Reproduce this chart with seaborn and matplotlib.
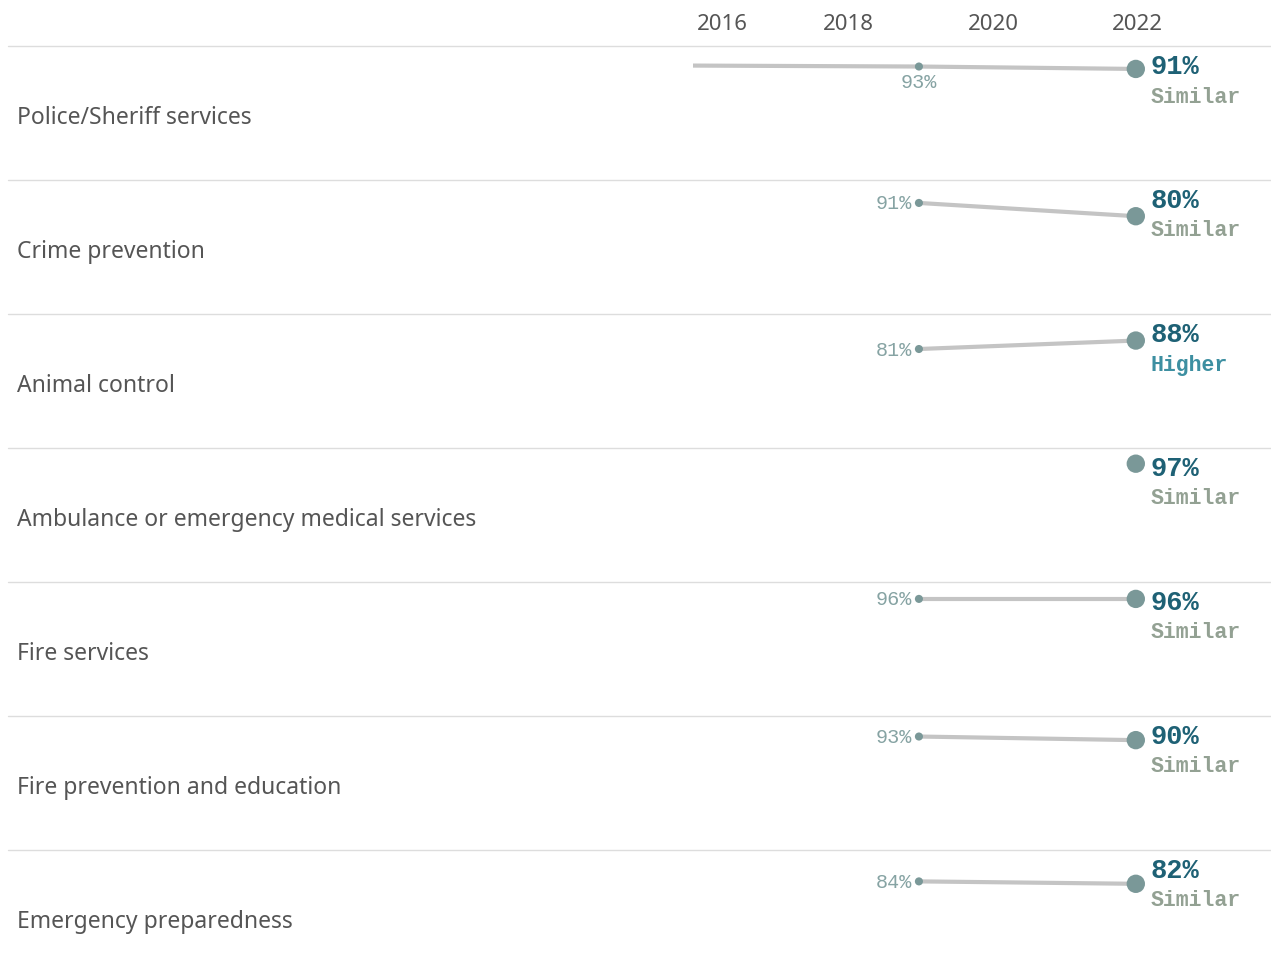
import pandas as pd
import matplotlib.pyplot as plt
import seaborn as sns
from matplotlib.lines import Line2D
from matplotlib.transforms import ScaledTranslation

# data
services = [
    "Police/Sheriff services",
    "Crime prevention",
    "Animal control",
    "Ambulance or emergency medical services",
    "Fire services",
    "Fire prevention and education",
    "Emergency preparedness",
]
pct_2015 = [94, None, None, None, None, None, None]
pct_2019 = [93, 91, 81, None, 96, 93, 84]
pct_2022 = [91, 80, 88, 97, 96, 90, 82]
comparison = ["Similar", "Similar", "Higher", "Similar", "Similar", "Similar", "Similar"]
year_ticks = [2016, 2018, 2020, 2022]

rows = []
for s, a, b, c in zip(services, pct_2015, pct_2019, pct_2022):
    for yr, v in [(2015, a), (2019, b), (2022, c)]:
        if v is not None:
            rows.append({"service": s, "year": yr, "pct": v})
df = pd.DataFrame(rows)

sns.set_style("white")
plt.rcParams["font.family"] = ["Noto Sans", "DejaVu Sans"]

W, H = 1271, 979
fig = plt.figure(figsize=(W / 100, H / 100), dpi=100)

top = 47
row_h = 134
x0 = 693
mono = "Liberation Mono"

for i, s in enumerate(services):
    y_top = top + i * row_h
    ax = fig.add_axes([x0 / W, 1 - (y_top + row_h) / H, (W - x0) / W, row_h / H])
    d = df[df.service == s]

    if len(d) > 1:
        sns.lineplot(data=d, x="year", y="pct", ax=ax, color="#c4c4c4",
                     lw=3, estimator=None, zorder=1)
    d19 = d[d.year == 2019]
    d22 = d[d.year == 2022]
    sns.scatterplot(data=d19, x="year", y="pct", ax=ax, s=34,
                    color="#7a9898", edgecolor="none", zorder=2)
    sns.scatterplot(data=d22, x="year", y="pct", ax=ax, s=175,
                    color="#7a9898", edgecolor="none", zorder=3)

    ax.set_xlim(2015.875, 2023.87)
    ax.set_ylim(-1, 110)
    ax.set(xlabel="", ylabel="")
    ax.patch.set_alpha(0)
    for sp in ax.spines.values():
        sp.set_visible(False)
    ax.set_yticks([])

    if i == 0:
        ax.set_xticks(year_ticks)
        ax.set_xticklabels([str(y) for y in year_ticks])
        ax.xaxis.tick_top()
        ax.tick_params(axis="x", length=0, pad=9, labelsize=16, labelcolor="#555555")
        for k, lab in enumerate(ax.get_xticklabels()):
            dx = 2
            if k == 0:
                lab.set_ha("left")
                dx = -5
            lab.set_transform(lab.get_transform() +
                              ScaledTranslation(dx / 100, 0, fig.dpi_scale_trans))
    else:
        ax.set_xticks([])

    # 2019 label
    for _, r in d19.iterrows():
        if (d.year < 2019).any():
            ax.annotate(f"{r.pct}%", (r.year, r.pct), xytext=(0, -15),
                        textcoords="offset pixels", ha="center", va="center",
                        family=mono, fontsize=14.5, color="#86a3a3")
        else:
            ax.annotate(f"{r.pct}%", (r.year, r.pct), xytext=(-7, 0),
                        textcoords="offset pixels", ha="right", va="center",
                        family=mono, fontsize=14.5, color="#86a3a3")

    # 2022 label + comparison
    for _, r in d22.iterrows():
        ax.annotate(f"{r.pct}%", (r.year, 1 - 20 / row_h),
                    xycoords=("data", "axes fraction"), xytext=(15, 0),
                    textcoords="offset pixels", ha="left", va="center",
                    family=mono, fontsize=19.5, fontweight="bold", color="#1e6175")
        ax.annotate(comparison[i], (r.year, 1 - 50 / row_h),
                    xycoords=("data", "axes fraction"), xytext=(15, 0),
                    textcoords="offset pixels", ha="left", va="center",
                    family=mono, fontsize=15.5, fontweight="bold",
                    color="#3d8fa1" if comparison[i] == "Higher" else "#93a193")

    fig.text(17 / W, 1 - (y_top + row_h / 2 + 4) / H, s, ha="left", va="center",
             fontsize=16.5, color="#555555")

for i in range(len(services)):
    y = top + i * row_h
    fig.add_artist(Line2D([8 / W, 1], [1 - y / H, 1 - y / H], color="#dddddd", lw=1))

plt.savefig("out.png", dpi=100)
